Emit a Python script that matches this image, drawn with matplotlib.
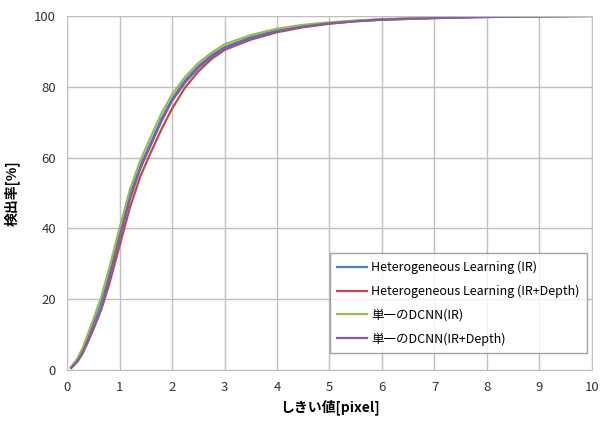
import matplotlib
matplotlib.use('Agg')
import matplotlib.pyplot as plt

plt.rcParams['font.family'] = ['Noto Sans CJK JP', 'DejaVu Sans']

x = [0.08, 0.2, 0.3, 0.4, 0.5, 0.65, 0.8, 1.0, 1.2, 1.4, 1.6, 1.8, 2.0, 2.25,
     2.5, 2.75, 3.0, 3.5, 4.0, 4.5, 5.0, 5.5, 6.0, 7.0, 8.0, 9.0, 10.0]

hl_ir = [0.8, 2.9, 5.7, 9.4, 13.2, 19.3, 27, 38.5, 49.5, 57.8, 64.3, 71, 76.5, 81.8,
         85.8, 88.9, 91.2, 94, 95.9, 97.2, 98, 98.6, 99, 99.5, 99.8, 99.9, 100]
hl_ir_depth = [0.6, 2.4, 4.8, 8, 11.4, 17, 24, 35, 46, 54.8, 61.6, 68, 73.8, 79.8,
               84.3, 87.8, 90.4, 93.3, 95.4, 96.8, 97.8, 98.5, 98.9, 99.4, 99.7, 99.9, 100]
single_ir = [0.9, 3.3, 6.3, 10.3, 14.2, 20.5, 28.5, 40, 51, 59.3, 66, 72.5, 77.8, 82.8,
             86.7, 89.6, 92, 94.6, 96.4, 97.5, 98.2, 98.7, 99.1, 99.5, 99.8, 99.9, 100]
single_ir_depth = [0.6, 2.5, 5, 8.4, 12, 17.3, 25.5, 37, 48.3, 57, 63.7, 70.3, 76, 81.2,
                   85.3, 88.4, 90.8, 93.6, 95.6, 97, 97.9, 98.5, 99, 99.4, 99.7, 99.9, 100]

labels = ['Heterogeneous Learning (IR)', 'Heterogeneous Learning (IR+Depth)',
          '単一のDCNN(IR)', '単一のDCNN(IR+Depth)']
colors = ['#4A7EBB', '#BE4B48', '#98B954', '#7D60A0']

fig = plt.figure(figsize=(6.01, 4.23), dpi=100)
ax = fig.add_axes([0.1115, 0.1253, 0.8735, 0.837])

for ys, lab, c in zip([hl_ir, hl_ir_depth, single_ir, single_ir_depth], labels, colors):
    ax.plot(x, ys, color=c, lw=1.6, label=lab, solid_joinstyle='round')

ax.set_xlim(0, 10)
ax.set_ylim(0, 100)
ax.set_xticks(range(0, 11))
ax.set_yticks(range(0, 101, 20))
ax.grid(color='#BFBFBF', lw=1)
ax.set_axisbelow(True)
for s in ax.spines.values():
    s.set_color('#BFBFBF')
ax.tick_params(length=0, labelsize=9.5, colors='#333333', pad=8)
ax.set_xlabel('しきい値[pixel]', fontsize=10, fontweight='bold', labelpad=4)
ax.set_ylabel('検出率[%]', fontsize=10, fontweight='bold', labelpad=10)

leg = ax.legend(loc='lower right', bbox_to_anchor=(0.9905, 0.048), borderaxespad=0,
                fontsize=9, frameon=True, fancybox=False, edgecolor='#8C8C8C',
                handlelength=2.4, labelspacing=0.85, handletextpad=0.3,
                borderpad=0.6)
leg.get_frame().set_linewidth(1)

fig.savefig('out.png', dpi=100)
